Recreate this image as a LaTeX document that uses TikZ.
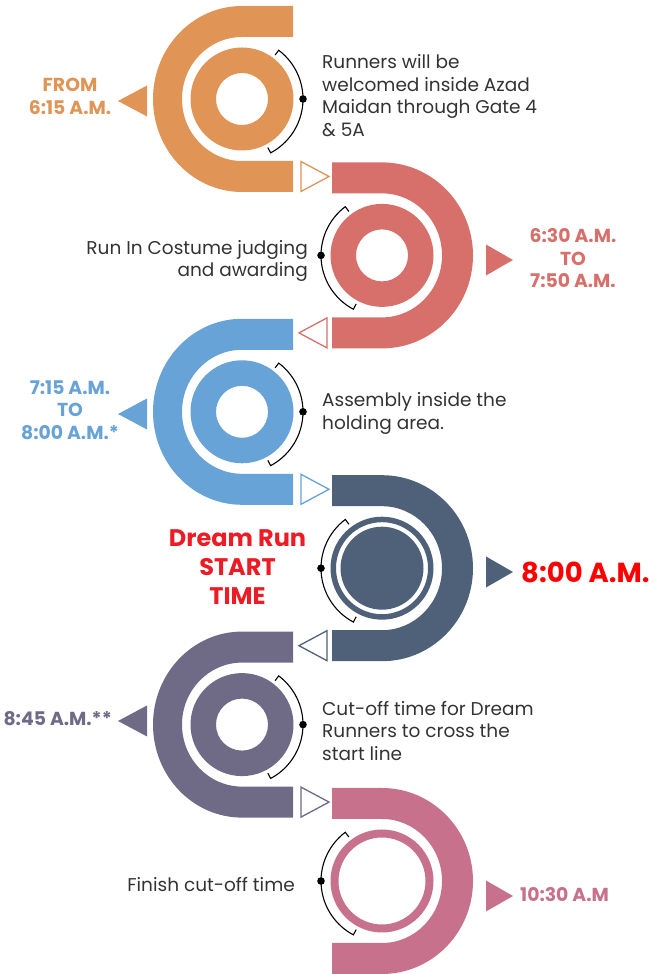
\documentclass[tikz,border=0pt]{standalone}
\usepackage{fontspec}
\setmainfont{Poppins}
\usetikzlibrary{positioning}

\definecolor{segOrange}{HTML}{E09455}
\definecolor{segRed}{HTML}{D7706A}
\definecolor{segBlue}{HTML}{67A3D6}
\definecolor{segNavy}{HTML}{4F6079}
\definecolor{segPurple}{HTML}{6F6A86}
\definecolor{segPink}{HTML}{C8718D}
\definecolor{txtGray}{HTML}{333333}
\definecolor{dreamRed}{HTML}{ED1C24}
\definecolor{bigRed}{HTML}{FF0000}

\begin{document}
\begin{tikzpicture} [
                x=1pt, y=1pt,
                note/.style={text=txtGray,font=\fontsize{18.5}{22.5}\selectfont,inner sep=0pt},
                stamp/.style={font=\bfseries\fontsize{18.8}{22.5}\selectfont,align=center,inner sep=0pt},
                bracket/.style={draw=black,line width=1.1pt},
                gate/.style={draw=#1,line width=1.3pt,fill=white},
            ]
            \useasboundingbox (0,0) rectangle (652,974);
            % bends opening to the right
            \foreach \y/\col/\name in {
            {875/segOrange/c1}, {562.2/segBlue/c3}, {249.4/segPurple/c5}} {
                \coordinate (\name) at (242,\y);
                \fill[\col] (293,\y+93) -- (242,\y+93)
                    arc[start angle=90,end angle=270,x radius=89,y radius=93]
                    -- (293,\y-93) -- (293,\y-62) -- (242,\y-62)
                    arc[start angle=270,end angle=90,x radius=60,y radius=62]
                    -- (293,\y+62) -- cycle;
                \draw[bracket] (\name) ++(53:55) -- ++(53:6)
                    arc[start angle=53,end angle=-62,radius=61] -- ++(118:6);
                \fill ([xshift=61]\name) circle (3.8);
            }
            % bends opening to the left
            \foreach \y/\col/\name in {
            {718.6/segRed/c2}, {405.8/segNavy/c4}, {93/segPink/c6}} {
                \coordinate (\name) at (382,\y);
                \fill[\col] (332,\y+93) -- (382,\y+93)
                    arc[start angle=90,end angle=-90,x radius=91,y radius=93]
                    -- (332,\y-93) -- (332,\y-62) -- (382,\y-62)
                    arc[start angle=-90,end angle=90,x radius=60,y radius=62]
                    -- (332,\y+62) -- cycle;
                \draw[bracket] (\name) ++(127:55) -- ++(127:6)
                    arc[start angle=127,end angle=242,radius=61] -- ++(62:6);
                \fill ([xshift=-61]\name) circle (3.8);
            }
            % rings
            \foreach \name/\col in {c1/segOrange, c2/segRed, c3/segBlue, c5/segPurple}
                \fill[\col,even odd rule] (\name) circle (51.5) (\name) circle (26);
            \fill[segNavy,even odd rule] (c4) circle (51.5) (c4) circle (46);
            \fill[segNavy] (c4) circle (41.5);
            \fill[segPink,even odd rule] (c6) circle (51.5) (c6) circle (43.5);
            % gates between bends
            \foreach \y/\col in {797.5/segOrange, 484.7/segBlue, 171.9/segPurple}
                \draw[gate=\col] (301,\y+15) -- (329,\y) -- (301,\y-15) -- cycle;
            \foreach \y/\col in {641.1/segRed, 328.3/segNavy}
                \draw[gate=\col] (327,\y+15) -- (299,\y) -- (327,\y-15) -- cycle;
            % pointers to the times
            \foreach \y/\col in {873/segOrange, 560/segBlue, 253/segPurple}
                \fill[\col] (118,\y) -- (147,\y+15.5) -- (147,\y-15.5) -- cycle;
            \foreach \y/\col in {714/segRed, 402/segNavy, 78/segPink}
                \fill[\col] (513,\y) -- (486,\y+15.5) -- (486,\y-15.5) -- cycle;
            % times
            \node[stamp,text=segOrange] (time1) at (70,877.5) {FROM\\6:15 A.M.};
            \node[stamp,text=segRed] (time2) at (573,715.5) {6:30 A.M.\\TO\\7:50 A.M.};
            \node[stamp,text=segBlue] (time3) at (70,564) {7:15 A.M.\\TO\\8:00 A.M.*};
            \node[stamp,text=bigRed,font=\bfseries\fontsize{27.5}{30}\selectfont,anchor=west] (time4) at (521,402) {8:00 A.M.};
            \node[stamp,text=segPurple,anchor=east] (time5) at (112,255) {8:45 A.M.**};
            \node[stamp,text=segPink,anchor=west] (time6) at (520,79) {10:30 A.M};
            % what happens
            \node[note,align=left,anchor=west] (note1) at (322,878.5)
                {Runners will be\\welcomed inside Azad\\Maidan through Gate 4\\\& 5A};
            \node[note,align=right,anchor=east] (note2) at (308,713)
                {Run In Costume judging\\and awarding};
            \node[note,align=left,anchor=west] (note3) at (322,560.5)
                {Assembly inside the\\holding area.};
            \node[stamp,text=dreamRed,font=\bfseries\fontsize{24}{29}\selectfont] (note4) at (237.5,407)
                {Dream Run\\START\\TIME};
            \node[note,align=left,anchor=west] (note5) at (322,243)
                {Cut-off time for Dream\\Runners to cross the\\start line};
            \node[note,align=right,anchor=east] (note6) at (295,89)
                {Finish cut-off time};
        \end{tikzpicture}
\end{document}
